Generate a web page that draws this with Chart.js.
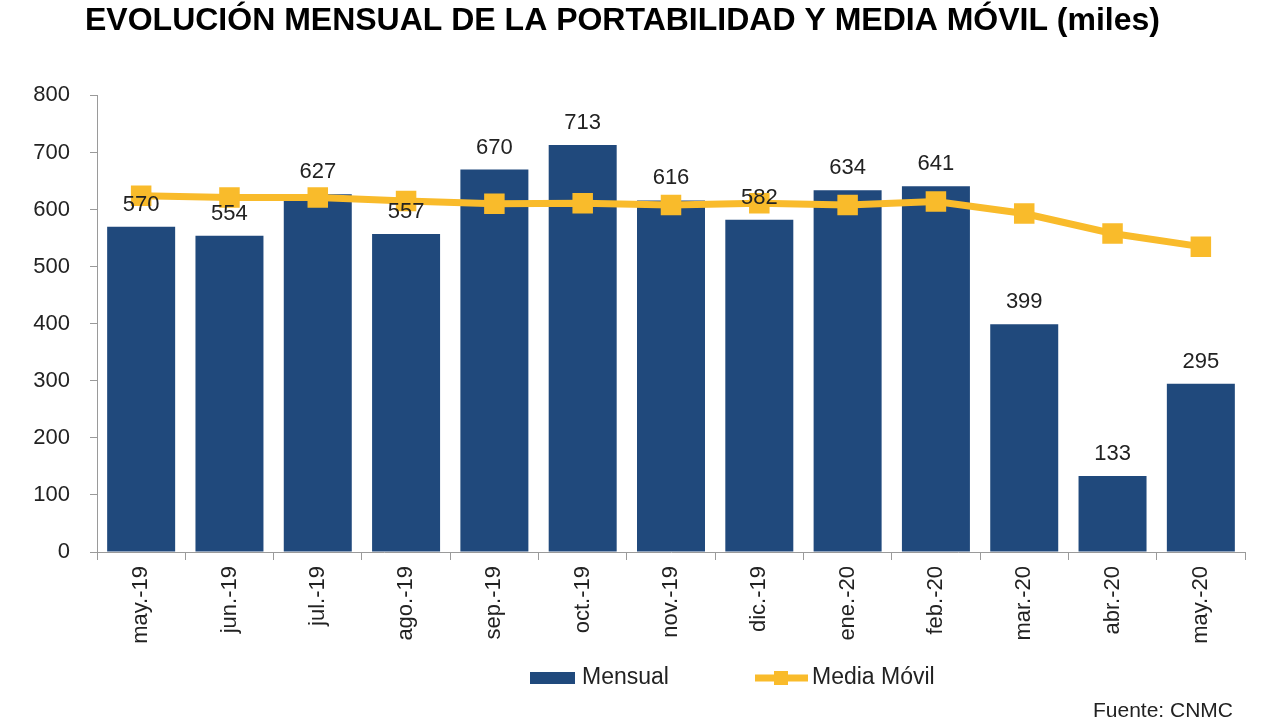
<!DOCTYPE html>
<html>
<head>
<meta charset="utf-8">
<script src="https://cdn.jsdelivr.net/npm/chart.js@4/dist/chart.umd.min.js"></script>
<style>
  html, body { margin: 0; padding: 0; background: #fff; }
  #wrap { width: 1280px; height: 727px; }
</style>
</head>
<body>
<div id="wrap"><canvas id="chart" width="1280" height="727"></canvas></div>
<script>
// data (thousands)
const meses = ['may.-19', 'jun.-19', 'jul.-19', 'ago.-19', 'sep.-19', 'oct.-19', 'nov.-19', 'dic.-19', 'ene.-20', 'feb.-20', 'mar.-20', 'abr.-20', 'may.-20'];
const mensual = [570, 554, 627, 557, 670, 713, 616, 582, 634, 641, 399, 133, 295];
const mediaMovil = [624, 621, 621, 615, 610, 611, 608, 611, 608, 614, 593, 558, 535];
const yTicks = [0, 100, 200, 300, 400, 500, 600, 700, 800];

const AZUL = '#20497c';
const AMARILLO = '#f9bb2b';
const FONT = '"Liberation Sans", Arial, sans-serif';

// value labels over the bars
const barLabels = {
  id: 'barLabels',
  afterDatasetsDraw(chart) {
    const ctx = chart.ctx;
    const meta = chart.getDatasetMeta(0);
    ctx.save();
    ctx.font = '22px ' + FONT;
    ctx.fillStyle = '#222';
    ctx.textAlign = 'center';
    ctx.textBaseline = 'alphabetic';
    meta.data.forEach((bar, i) => {
      ctx.fillText(String(mensual[i]), bar.x, bar.y - 16);
    });
    ctx.restore();
  }
};

// legend + source note
const extras = {
  id: 'extras',
  afterDraw(chart) {
    const ctx = chart.ctx;
    const ds = chart.data.datasets;
    const y = 678;
    ctx.save();
    ctx.font = '23px ' + FONT;
    ctx.textBaseline = 'middle';
    ctx.textAlign = 'left';

    ctx.fillStyle = ds[0].backgroundColor;
    ctx.fillRect(530, y - 6, 45, 12);
    ctx.fillStyle = '#222';
    ctx.fillText(ds[0].label, 582, y);

    ctx.strokeStyle = ds[1].borderColor;
    ctx.lineWidth = 7;
    ctx.beginPath();
    ctx.moveTo(755, y);
    ctx.lineTo(808, y);
    ctx.stroke();
    ctx.fillStyle = ds[1].borderColor;
    ctx.fillRect(774, y - 7, 14, 14);
    ctx.fillStyle = '#222';
    ctx.fillText(ds[1].label, 812, y);

    ctx.font = '21px ' + FONT;
    ctx.textAlign = 'right';
    ctx.fillText('Fuente: CNMC', 1233, 711);
    ctx.restore();
  }
};

new Chart(document.getElementById('chart'), {
  type: 'bar',
  data: {
    labels: meses,
    datasets: [
      {
        label: 'Mensual',
        data: mensual,
        backgroundColor: AZUL,
        categoryPercentage: 1,
        barPercentage: 0.77,
        order: 1
      },
      {
        type: 'line',
        label: 'Media Móvil',
        data: mediaMovil,
        borderColor: AMARILLO,
        backgroundColor: AMARILLO,
        borderWidth: 7,
        pointStyle: 'rect',
        pointRadius: 14.5,
        pointHoverRadius: 14.5,
        pointBorderWidth: 0,
        tension: 0,
        order: 0
      }
    ]
  },
  options: {
    responsive: false,
    animation: false,
    layout: { padding: { left: 0, right: 35, top: 0, bottom: 0 } },
    plugins: {
      legend: { display: false },
      tooltip: { enabled: false },
      title: {
        display: true,
        text: 'EVOLUCIÓN MENSUAL DE LA PORTABILIDAD Y MEDIA MÓVIL (miles)',
        color: '#000',
        font: { family: FONT, size: 32, weight: 'bold', lineHeight: 1.2 },
        padding: { top: 2, bottom: 55 }
      }
    },
    scales: {
      x: {
        grid: { drawOnChartArea: false, offset: true, tickLength: 8, color: '#9a9a9a' },
        border: { color: '#9a9a9a' },
        ticks: {
          color: '#222',
          font: { family: FONT, size: 22 },
          minRotation: 90,
          maxRotation: 90,
          padding: 6
        },
        afterFit(scale) { scale.height = 175; }
      },
      y: {
        min: 0,
        max: 800,
        grid: { drawOnChartArea: false, tickLength: 7, color: '#9a9a9a' },
        border: { color: '#9a9a9a' },
        afterBuildTicks(scale) { scale.ticks = yTicks.map(v => ({ value: v })); },
        ticks: {
          color: '#222',
          font: { family: FONT, size: 22 },
          padding: 20
        },
        afterFit(scale) { scale.width = 97; }
      }
    }
  },
  plugins: [barLabels, extras]
});
</script>
</body>
</html>
